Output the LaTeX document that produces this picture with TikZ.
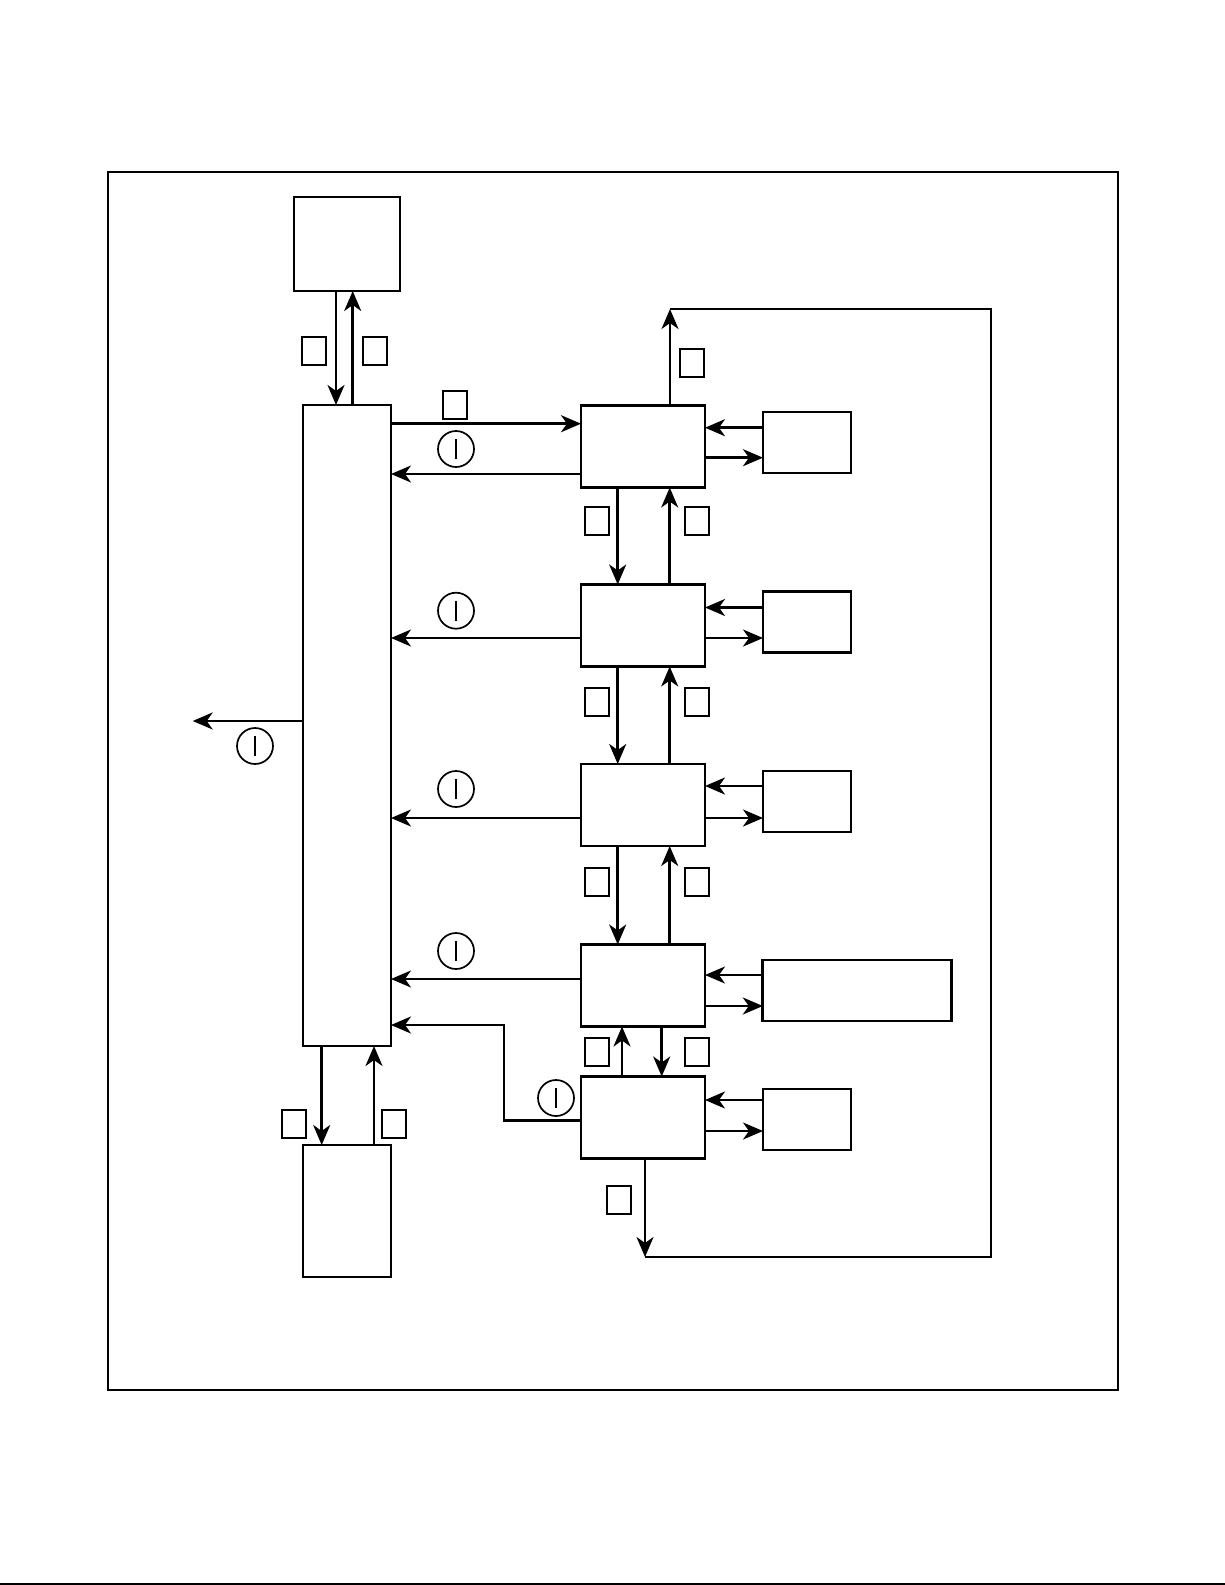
\documentclass[tikz,border=0pt]{standalone}
\usetikzlibrary{arrows.meta}
\begin{document}
\begin{tikzpicture}[x=1pt,y=-1pt,
  box/.style={draw, line width=2.7pt, inner sep=0pt, outer sep=0pt},
  pbox/.style={box, minimum width=124pt, minimum height=82pt},
  rbox/.style={box, minimum width=88pt, minimum height=61pt},
  sq/.style={draw, line width=2pt, inner sep=0pt, minimum width=24pt, minimum height=28pt},
  circ/.style={draw, circle, line width=1.7pt, inner sep=0pt, minimum size=36pt,
    path picture={\draw[line width=2pt] ([yshift=-10pt]path picture bounding box.center) -- ([yshift=10pt]path picture bounding box.center);}},
  arr/.style={line width=2.5pt, -{Stealth[length=20pt,width=17pt,inset=6pt]}},
  plain/.style={line width=2.5pt, line join=miter}]
\useasboundingbox (0,0) rectangle (1225,1585);
% frame
\draw[line width=1.6pt] (108,172) rectangle (1118,1390);
\draw[line width=1.6pt] (0,1584) -- (1225,1584);
% boxes
\node[box, minimum width=106pt, minimum height=94pt] (T) at (347,244) {};
\node[box, minimum width=88pt, minimum height=641pt] (M) at (347,725.5) {};
\node[box, minimum width=88pt, minimum height=132pt] (B) at (347,1211) {};
\node[pbox] (P1) at (643,446.5) {};
\node[pbox] (P2) at (643,625.5) {};
\node[pbox] (P3) at (643,805) {};
\node[pbox] (P4) at (643,985.5) {};
\node[pbox] (P5) at (643,1117.5) {};
\node[rbox] (R1) at (807,442.5) {};
\node[rbox] (R2) at (807,622) {};
\node[rbox] (R3) at (807,801.5) {};
\node[box, minimum width=189pt, minimum height=61pt] (R4) at (857.3,990.5) {};
\node[rbox] (R5) at (807,1119.5) {};
% squares
\node[sq] (s1) at (314,351) {};
\node[sq] (s2) at (375,351) {};
\node[sq] (s3) at (455,405) {};
\node[sq] (s4) at (692,363) {};
\node[sq] (s5) at (596.7,521) {};
\node[sq] (s6) at (697.2,521) {};
\node[sq] (s7) at (596.7,702) {};
\node[sq] (s8) at (697.2,702) {};
\node[sq] (s9) at (596.7,882) {};
\node[sq] (s10) at (697.2,882) {};
\node[sq] (s11) at (597,1052) {};
\node[sq] (s12) at (697.3,1052) {};
\node[sq] (s13) at (294,1124) {};
\node[sq] (s14) at (394,1124) {};
\node[sq] (s15) at (619,1200) {};
% circles
\node[circ] (c1) at (456,449) {};
\node[circ] (c2) at (456,610.7) {};
\node[circ] (c3) at (456,789) {};
\node[circ] (c4) at (456,951) {};
\node[circ] (c5) at (556,1098) {};
\node[circ] (c6) at (255,746) {};
% T <-> M
\draw[arr] (T.south -| 336,0) -- (M.north -| 336,0);
\draw[arr] (M.north -| 352.7,0) -- (T.south -| 352.7,0);
% M <-> P1
\draw[arr] (M.east |- 0,423.7) -- (P1.west |- 0,423.7);
\draw[arr] (P1.west |- 0,474) -- (M.east |- 0,474);
% P -> M
\draw[arr] (P2.west |- 0,638) -- (M.east |- 0,638);
\draw[arr] (P3.west |- 0,818) -- (M.east |- 0,818);
\draw[arr] (P4.west |- 0,979) -- (M.east |- 0,979);
\draw[arr, line join=miter] (P5.west |- 0,1120.7) -- (504,1120.7) -- (504,1025) -- (M.east |- 0,1025);
% column links
\draw[arr] (P1.south -| 617.7,0) -- (P2.north -| 617.7,0);
\draw[arr] (P2.north -| 669.7,0) -- (P1.south -| 669.7,0);
\draw[arr] (P2.south -| 617.7,0) -- (P3.north -| 617.7,0);
\draw[arr] (P3.north -| 669.7,0) -- (P2.south -| 669.7,0);
\draw[arr] (P3.south -| 617.7,0) -- (P4.north -| 617.7,0);
\draw[arr] (P4.north -| 669.7,0) -- (P3.south -| 669.7,0);
\draw[arr] (P4.south -| 661.7,0) -- (P5.north -| 661.7,0);
\draw[arr] (P5.north -| 622,0) -- (P4.south -| 622,0);
% right boxes
\draw[arr] (R1.west |- 0,427.7) -- (P1.east |- 0,427.7);
\draw[arr] (P1.east |- 0,457.7) -- (R1.west |- 0,457.7);
\draw[arr] (R2.west |- 0,607.5) -- (P2.east |- 0,607.5);
\draw[arr] (P2.east |- 0,638) -- (R2.west |- 0,638);
\draw[arr] (R3.west |- 0,786) -- (P3.east |- 0,786);
\draw[arr] (P3.east |- 0,818) -- (R3.west |- 0,818);
\draw[arr] (R4.west |- 0,975) -- (P4.east |- 0,975);
\draw[arr] (P4.east |- 0,1006) -- (R4.west |- 0,1006);
\draw[arr] (R5.west |- 0,1100) -- (P5.east |- 0,1100);
\draw[arr] (P5.east |- 0,1131) -- (R5.west |- 0,1131);
% output left
\coordinate (out) at (192.7,721);
\draw[arr] (M.west |- out) -- (out);
% M <-> B
\draw[arr] (M.south -| 321.7,0) -- (B.north -| 321.7,0);
\draw[arr] (B.north -| 374,0) -- (M.south -| 374,0);
% feedback loop
\coordinate (lt) at (670,309);
\coordinate (lb) at (645,1257);
\draw[arr] (P1.north -| lt) -- (lt);
\draw[arr] (P5.south -| lb) -- (lb);
\draw[plain] (lb) -- (991,1257) -- (991,309) -- (lt);
\end{tikzpicture}
\end{document}
